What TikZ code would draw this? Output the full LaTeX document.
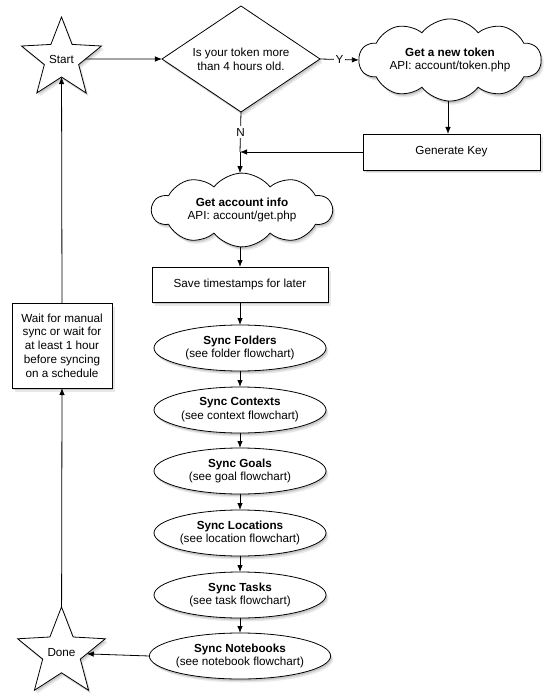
\documentclass[tikz,border=0pt]{standalone}
\usepackage{fontspec}
\setmainfont{Liberation Sans}
\usetikzlibrary{shapes.geometric,shapes.symbols,shadows,arrows.meta}
\begin{document}
\begin{tikzpicture}[x=1pt,y=-1pt,
  every node/.style={font=\fontsize{11.7}{13.8}\selectfont, align=center},
  base/.style={draw, line width=0.8pt, fill=white, inner sep=0pt, outer sep=0pt,
    drop shadow={opacity=0.18, shadow xshift=2.5pt, shadow yshift=-3.5pt},
    drop shadow={opacity=0.3, shadow xshift=1.2pt, shadow yshift=-2pt}},
  box/.style={base, rectangle},
  oval/.style={base, ellipse, minimum width=172pt, minimum height=46pt},
  starshape/.style={base, star, star points=5, star point ratio=2.33},
  decision/.style={base, diamond, aspect=1.5, minimum width=158pt, minimum height=106pt},
  cloudshape/.style={base, cloud, cloud puffs=10, cloud puff arc=105, aspect=2.9},
  conn/.style={line width=0.8pt, -{Latex[length=7pt,width=5.5pt]}},
  plain/.style={line width=0.8pt},
  lbl/.style={fill=white, inner sep=2pt}
]
\useasboundingbox (0,0) rectangle (547,700);

\node[starshape, minimum size=84pt] (start) at (61.5,59) {Start};
\node[decision] (dia) at (241,59) {Is your token more\\than 4 hours old.};
\node[cloudshape, minimum width=182pt, minimum height=66pt] (tok) at (450,60) {\textbf{Get a new token}\\API: account/token.php};
\node[box, minimum width=177pt, minimum height=36pt] (gk) at (451.5,152) {Generate Key};
\coordinate (j) at (240,152);
\node[cloudshape, minimum width=180pt, minimum height=67pt] (acct) at (242,210) {\textbf{Get account info}\\API: account/get.php};
\node[box, minimum width=176pt, minimum height=35pt] (save) at (240,284.5) {Save timestamps for later};
\node[oval] (fold) at (240,348) {\textbf{Sync Folders}\\(see folder flowchart)};
\node[oval] (ctx) at (240,410) {\textbf{Sync Contexts}\\(see context flowchart)};
\node[oval] (goal) at (240,471) {\textbf{Sync Goals}\\(see goal flowchart)};
\node[oval] (loc) at (240,533) {\textbf{Sync Locations}\\(see location flowchart)};
\node[oval] (task) at (240,595) {\textbf{Sync Tasks}\\(see task flowchart)};
\node[oval] (nb) at (240,656) {\textbf{Sync Notebooks}\\(see notebook flowchart)};
\node[starshape, minimum size=82pt] (done) at (61.5,653) {Done};
\node[box, minimum width=100pt, minimum height=85pt] (wait) at (62,345.5) {Wait for manual\\sync or wait for\\at least 1 hour\\before syncing\\on a schedule};

\draw[conn] (start) -- (dia);
\draw[conn] (dia.east) -- node[lbl]{Y} (tok.west);
\draw[conn] ([xshift=-2pt]tok.south) -- ([xshift=-2pt]tok.south |- gk.north);
\draw[plain] (dia.south) -- node[lbl]{N} (j);
\draw[conn] (j) -- (acct.north -| j);
\draw[conn] (gk.west) -- (j);
\draw[conn] (acct.south -| save.north) -- (save.north);
\draw[conn] (save.south) -- (fold.north);
\draw[conn] (fold.south) -- (ctx.north);
\draw[conn] (ctx.south) -- (goal.north);
\draw[conn] (goal.south) -- (loc.north);
\draw[conn] (loc.south) -- (task.north);
\draw[conn] (task.south) -- (nb.north);
\draw[conn] (nb.west) -- (done);
\draw[conn] (done) -- (wait.south);
\draw[conn] (wait.north) -- (start);
\end{tikzpicture}
\end{document}
